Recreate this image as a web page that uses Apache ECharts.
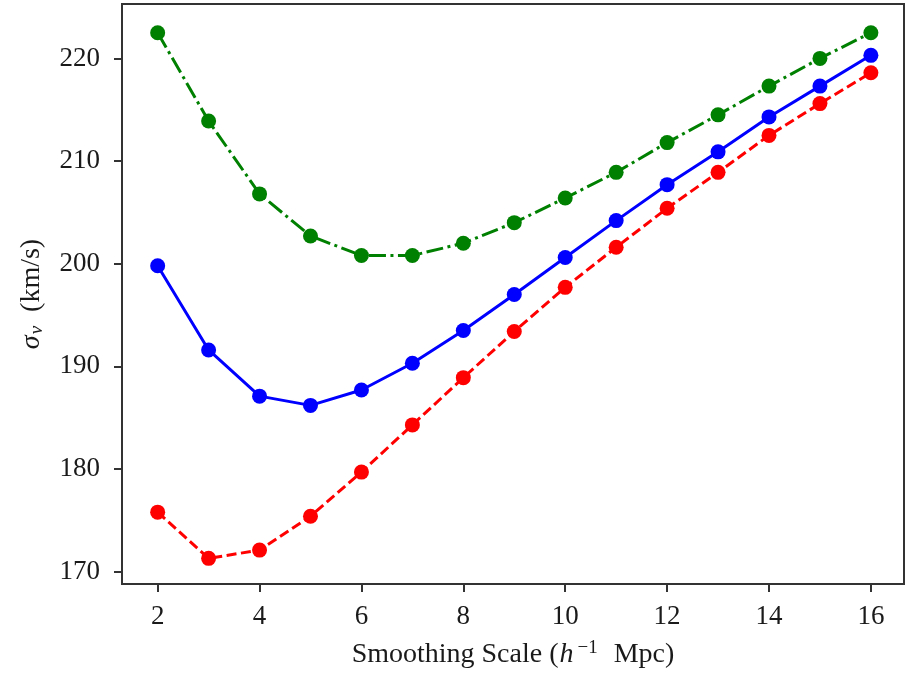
<!DOCTYPE html>
<html>
<head>
<meta charset="utf-8">
<script src="https://cdn.jsdelivr.net/npm/echarts@6/dist/echarts.min.js"></script>
<style>
  html, body { margin: 0; padding: 0; background: #fff; }
  #chart { width: 905px; height: 677px; }
</style>
</head>
<body>
<div id="chart"></div>
<script>
// Smoothing scale in h^-1 Mpc
const scales = [2, 3, 4, 5, 6, 7, 8, 9, 10, 11, 12, 13, 14, 15, 16];

// Velocity dispersion (km/s) for each curve
const sigmaGreen = [222.5, 213.9, 206.8, 202.7, 200.8, 200.8, 202.0, 204.0, 206.4, 208.9, 211.8, 214.5, 217.3, 220.0, 222.5];
const sigmaBlue  = [199.8, 191.6, 187.1, 186.2, 187.7, 190.3, 193.5, 197.0, 200.6, 204.2, 207.7, 210.9, 214.3, 217.3, 220.3];
const sigmaRed   = [175.8, 171.3, 172.1, 175.4, 179.7, 184.3, 188.9, 193.4, 197.7, 201.6, 205.4, 208.9, 212.5, 215.6, 218.6];

// Tick positions
const xTicks = [2, 4, 6, 8, 10, 12, 14, 16];
const yTicks = [170, 180, 190, 200, 210, 220];

const FONT = '"Liberation Serif", "DejaVu Serif", serif';
const TEXT_COLOR = '#1a1a1a';
const AXIS_COLOR = '#333';

function pairs(ys) {
  return scales.map((x, i) => [x, ys[i]]);
}

function lineSeries(name, ys, color, dash) {
  return {
    name: name,
    type: 'line',
    data: pairs(ys),
    symbol: 'circle',
    symbolSize: 15,
    showSymbol: true,
    itemStyle: { color: color },
    lineStyle: { color: color, width: 3, type: dash },
    emphasis: { disabled: true },
    animation: false
  };
}

const chart = echarts.init(document.getElementById('chart'), null, { renderer: 'canvas' });

chart.setOption({
  backgroundColor: '#fff',
  animation: false,
  grid: {
    left: 122, top: 4, right: 1, bottom: 93,
    show: true, borderColor: AXIS_COLOR, borderWidth: 2, backgroundColor: 'transparent'
  },
  xAxis: {
    type: 'value',
    min: 1.3, max: 16.65,
    axisLine: { show: true, onZero: false, lineStyle: { color: AXIS_COLOR, width: 2 } },
    axisTick: { show: true, inside: false, length: 8, lineStyle: { color: AXIS_COLOR, width: 2 }, customValues: xTicks },
    axisLabel: { fontFamily: FONT, fontSize: 27, color: TEXT_COLOR, margin: 19, customValues: xTicks },
    splitLine: { show: false },
    name: '{w|Smoothing}{w|Scale}{t|(}{i|h}{sup|−1}{t|Mpc)}',
    nameLocation: 'middle',
    nameGap: 55,
    nameTextStyle: {
      rich: {
        w: { fontFamily: FONT, fontSize: 28, color: TEXT_COLOR, padding: [0, 7, 0, 0] },
        t: { fontFamily: FONT, fontSize: 28, color: TEXT_COLOR },
        i: { fontFamily: FONT, fontSize: 28, fontStyle: 'italic', color: TEXT_COLOR, padding: [0, 2, 0, 1] },
        sup: { fontFamily: FONT, fontSize: 19, color: TEXT_COLOR, verticalAlign: 'top', padding: [0, 16, 12, 2] }
      }
    }
  },
  yAxis: {
    type: 'value',
    min: 168.8, max: 225.3,
    axisLine: { show: true, onZero: false, lineStyle: { color: AXIS_COLOR, width: 2 } },
    axisTick: { show: true, inside: false, length: 8, lineStyle: { color: AXIS_COLOR, width: 2 }, customValues: yTicks },
    axisLabel: { fontFamily: FONT, fontSize: 27, color: TEXT_COLOR, margin: 22, customValues: yTicks },
    splitLine: { show: false },
    name: '{i|σ}{sub|v}{t|(km/s)}',
    nameLocation: 'middle',
    nameGap: 76,
    nameRotate: 90,
    nameTextStyle: {
      rich: {
        t: { fontFamily: FONT, fontSize: 28, color: TEXT_COLOR },
        i: { fontFamily: FONT, fontSize: 28, fontStyle: 'italic', color: TEXT_COLOR },
        sub: { fontFamily: FONT, fontSize: 19, fontStyle: 'italic', color: TEXT_COLOR, verticalAlign: 'bottom', padding: [8, 14, 0, 1] }
      }
    }
  },
  series: [
    lineSeries('green', sigmaGreen, '#008000', [17, 4.5, 3, 4.5]),
    lineSeries('blue', sigmaBlue, '#0000ff', 'solid'),
    lineSeries('red', sigmaRed, '#ff0000', [10, 4.5])
  ]
});
</script>
</body>
</html>
